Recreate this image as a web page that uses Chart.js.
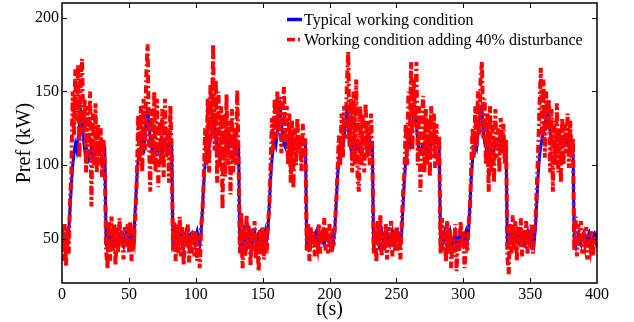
<!DOCTYPE html>
<html>
<head>
<meta charset="utf-8">
<script src="https://cdn.jsdelivr.net/npm/chart.js@4/dist/chart.umd.min.js"></script>
<style>
  html, body { margin: 0; padding: 0; background: #fff; }
  #wrap { width: 634px; height: 322px; }
</style>
</head>
<body>
<div id="wrap"><canvas id="myChart" width="634" height="322"></canvas></div>
<script>
// time axis, one sample per second
const times = Array.from({ length: 401 }, (_, i) => i);

const xTicks = [0, 50, 100, 150, 200, 250, 300, 350, 400];
const yTicks = [50, 100, 150, 200];

// typical working condition (kW)
const typical = [
  56, 54, 50, 46, 45, 55, 70, 86, 100, 108, 114, 110, 118, 128, 137, 130, 118, 110, 113, 107,
  104, 108, 112, 109, 105, 110, 113, 114, 111, 114, 115, 113, 112, 46, 44, 51, 54, 47, 45, 52,
  55, 48, 46, 53, 54, 47, 45, 51, 55, 48,
  46, 52, 54, 48, 56, 74, 92, 104, 110, 112, 116, 108, 120, 131, 139, 128, 117, 112, 115, 110,
  108, 112, 110, 114, 110, 108, 112, 116, 113, 110, 115, 114, 113, 45, 47, 53, 49, 46, 52, 55,
  48, 45, 51, 55, 49, 46, 53, 54, 47, 46,
  52, 55, 49, 46, 54, 70, 88, 101, 110, 115, 112, 118, 126, 132, 128, 120, 112, 108, 111, 106,
  110, 108, 111, 114, 117, 114, 118, 116, 113, 117, 116, 114, 113, 46, 44, 50, 55, 47, 45, 54,
  56, 47, 45, 55, 56, 47, 46, 54, 55, 47,
  45, 51, 55, 48, 56, 73, 91, 104, 112, 118, 114, 122, 132, 139, 130, 120, 114, 112, 116, 113,
  110, 114, 112, 115, 113, 111, 114, 116, 113, 115, 116, 114, 113, 46, 44, 52, 54, 48, 47, 53,
  55, 49, 47, 52, 54, 48, 46, 51, 54, 49,
  46, 52, 54, 48, 57, 74, 92, 104, 110, 114, 112, 120, 130, 137, 127, 116, 111, 114, 110, 108,
  112, 115, 111, 109, 113, 117, 115, 118, 116, 114, 117, 115, 114, 45, 47, 53, 50, 46, 52, 55,
  49, 46, 51, 54, 48, 46, 52, 55, 49, 46,
  51, 54, 48, 46, 55, 72, 90, 103, 110, 117, 114, 122, 130, 136, 138, 127, 115, 111, 109, 112,
  108, 110, 113, 109, 112, 116, 114, 118, 120, 116, 118, 117, 115, 46, 44, 50, 54, 47, 45, 52,
  55, 48, 45, 51, 54, 47, 45, 52, 55, 48,
  46, 52, 55, 48, 56, 73, 91, 104, 111, 115, 112, 121, 131, 138, 136, 124, 115, 112, 108, 111,
  107, 110, 113, 110, 114, 116, 113, 117, 115, 114, 117, 116, 114, 45, 46, 52, 55, 48, 46, 53,
  55, 49, 47, 52, 54, 48, 46, 53, 55, 48,
  46, 51, 54, 48, 57, 75, 93, 106, 113, 118, 122, 126, 133, 138, 130, 122, 118, 115, 112, 114,
  111, 113, 116, 112, 114, 117, 115, 118, 116, 114, 117, 116, 115, 46, 44, 50, 53, 48, 46, 52,
  54, 49, 47, 52, 54, 49, 48, 51, 53, 50, 55
];

// working condition with 40% disturbance (kW)
const disturbed = [
  58, 35, 60, 32, 58, 40, 75, 95, 150, 120, 165, 130, 168, 105, 160, 172, 122, 145, 95, 140,
  108, 150, 72, 135, 100, 142, 95, 128, 100, 125, 92, 118, 100, 42, 30, 62, 35, 65, 42, 60,
  32, 58, 40, 64, 45, 55, 36, 58, 44, 60,
  40, 62, 35, 58, 52, 70, 92, 134, 100, 140, 95, 145, 110, 160, 182, 118, 82, 138, 100, 150,
  95, 145, 85, 130, 100, 138, 92, 145, 105, 125, 88, 140, 110, 42, 62, 35, 60, 40, 65, 38,
  58, 32, 55, 45, 60, 34, 52, 40, 56, 38,
  55, 35, 52, 30, 58, 68, 90, 125, 100, 145, 95, 155, 120, 182, 110, 158, 88, 150, 98, 140,
  70, 135, 92, 148, 100, 130, 80, 138, 95, 125, 100, 151, 105, 40, 68, 30, 60, 38, 66, 45,
  55, 32, 58, 42, 62, 36, 50, 28, 56, 40,
  58, 36, 55, 40, 60, 72, 100, 132, 110, 145, 118, 150, 122, 146, 108, 140, 153, 115, 140, 100,
  135, 88, 130, 84, 125, 100, 132, 108, 120, 96, 128, 105, 118, 42, 60, 35, 58, 44, 55, 38,
  52, 46, 60, 40, 56, 48, 64, 42, 58, 40,
  60, 40, 55, 45, 58, 75, 95, 120, 100, 135, 105, 140, 118, 155, 177, 112, 145, 95, 150, 100,
  158, 90, 82, 140, 100, 135, 95, 142, 105, 130, 100, 135, 110, 40, 58, 34, 62, 45, 66, 38,
  55, 42, 60, 36, 58, 44, 62, 38, 55, 42,
  58, 42, 55, 36, 60, 80, 95, 128, 100, 150, 115, 170, 110, 158, 130, 170, 100, 140, 82, 130,
  147, 95, 138, 100, 132, 92, 140, 105, 135, 98, 128, 100, 120, 40, 64, 42, 58, 34, 62, 40,
  56, 30, 52, 38, 60, 28, 48, 42, 62, 45,
  55, 30, 50, 42, 60, 70, 100, 125, 105, 140, 112, 150, 120, 160, 170, 118, 145, 100, 135, 82,
  140, 95, 130, 88, 138, 105, 125, 95, 132, 108, 128, 100, 118, 38, 26, 60, 40, 66, 42, 62,
  35, 58, 45, 64, 38, 56, 48, 62, 40, 55,
  45, 60, 40, 55, 62, 85, 110, 140, 166, 118, 158, 105, 150, 125, 145, 95, 138, 82, 130, 100,
  142, 95, 125, 88, 132, 100, 128, 108, 135, 98, 130, 105, 118, 42, 65, 38, 60, 45, 62, 40,
  55, 48, 58, 36, 52, 45, 55, 38, 50, 48, 55
];

const serif = "'Liberation Serif', 'Times New Roman', serif";

// frame and inward tick marks, MATLAB style
const framePlugin = {
  id: 'frame',
  afterDraw(chart) {
    const { ctx, chartArea: a, scales } = chart;
    ctx.save();
    ctx.strokeStyle = '#000';
    ctx.lineWidth = 1.5;
    ctx.strokeRect(a.left, a.top, a.right - a.left, a.bottom - a.top);
    ctx.lineWidth = 1;
    ctx.beginPath();
    xTicks.slice(1, -1).forEach(v => {
      const x = Math.round(scales.x.getPixelForValue(v)) + 0.5;
      ctx.moveTo(x, a.bottom); ctx.lineTo(x, a.bottom - 5);
      ctx.moveTo(x, a.top); ctx.lineTo(x, a.top + 5);
    });
    yTicks.forEach(v => {
      const y = Math.round(scales.y.getPixelForValue(v)) + 0.5;
      ctx.moveTo(a.left, y); ctx.lineTo(a.left + 5, y);
      ctx.moveTo(a.right, y); ctx.lineTo(a.right - 5, y);
    });
    ctx.stroke();
    ctx.restore();
  }
};

// legend drawn inside the axes, top right
const legendPlugin = {
  id: 'insideLegend',
  afterDraw(chart) {
    const { ctx } = chart;
    ctx.save();
    ctx.font = '16px ' + serif;
    ctx.textBaseline = 'alphabetic';
    ctx.fillStyle = '#000';
    chart.data.datasets.forEach((ds, i) => {
      const y = 19.5 + i * 20;
      ctx.strokeStyle = ds.borderColor;
      ctx.lineWidth = 3.5;
      ctx.setLineDash(ds.borderDash || []);
      ctx.beginPath();
      ctx.moveTo(287, y);
      ctx.lineTo(302, y);
      ctx.stroke();
      ctx.setLineDash([]);
      ctx.fillText(ds.label, 304, y + 5);
    });
    ctx.restore();
  }
};

new Chart(document.getElementById('myChart').getContext('2d'), {
  type: 'line',
  data: {
    datasets: [
      {
        label: 'Typical working condition',
        data: typical.map((v, i) => ({ x: times[i], y: v })),
        borderColor: '#0000ff',
        borderWidth: 3,
        pointRadius: 0,
        tension: 0,
        order: 1
      },
      {
        label: 'Working condition adding 40% disturbance',
        data: disturbed.map((v, i) => ({ x: times[i], y: v })),
        borderColor: '#ff0000',
        borderWidth: 4,
        borderDash: [8, 3, 2, 3],
        pointRadius: 0,
        tension: 0,
        order: 0
      }
    ]
  },
  options: {
    responsive: false,
    animation: false,
    layout: { padding: { left: 0, right: 37, top: 3, bottom: 0 } },
    plugins: { legend: { display: false }, tooltip: { enabled: false } },
    scales: {
      x: {
        type: 'linear',
        min: 0,
        max: 400,
        afterBuildTicks: s => { s.ticks = xTicks.map(v => ({ value: v })); },
        afterFit: s => { s.height = 39; s.paddingLeft = 0; s.paddingRight = 0; },
        grid: { display: false, drawTicks: false },
        border: { display: false },
        ticks: { padding: 2, color: '#000', maxRotation: 0, font: { family: serif, size: 16 } },
        title: { display: true, text: 't(s)', color: '#000', padding: 0, font: { family: serif, size: 20 } }
      },
      y: {
        min: 20,
        max: 210,
        afterBuildTicks: s => { s.ticks = yTicks.map(v => ({ value: v })); },
        afterFit: s => { s.width = 62; s.paddingTop = 0; s.paddingBottom = 0; },
        grid: { display: false, drawTicks: false },
        border: { display: false },
        ticks: { padding: 3, color: '#000', font: { family: serif, size: 16 } },
        title: { display: true, text: 'Pref (kW)', color: '#000', padding: 13, font: { family: serif, size: 20 } }
      }
    }
  },
  plugins: [framePlugin, legendPlugin]
});
</script>
</body>
</html>
